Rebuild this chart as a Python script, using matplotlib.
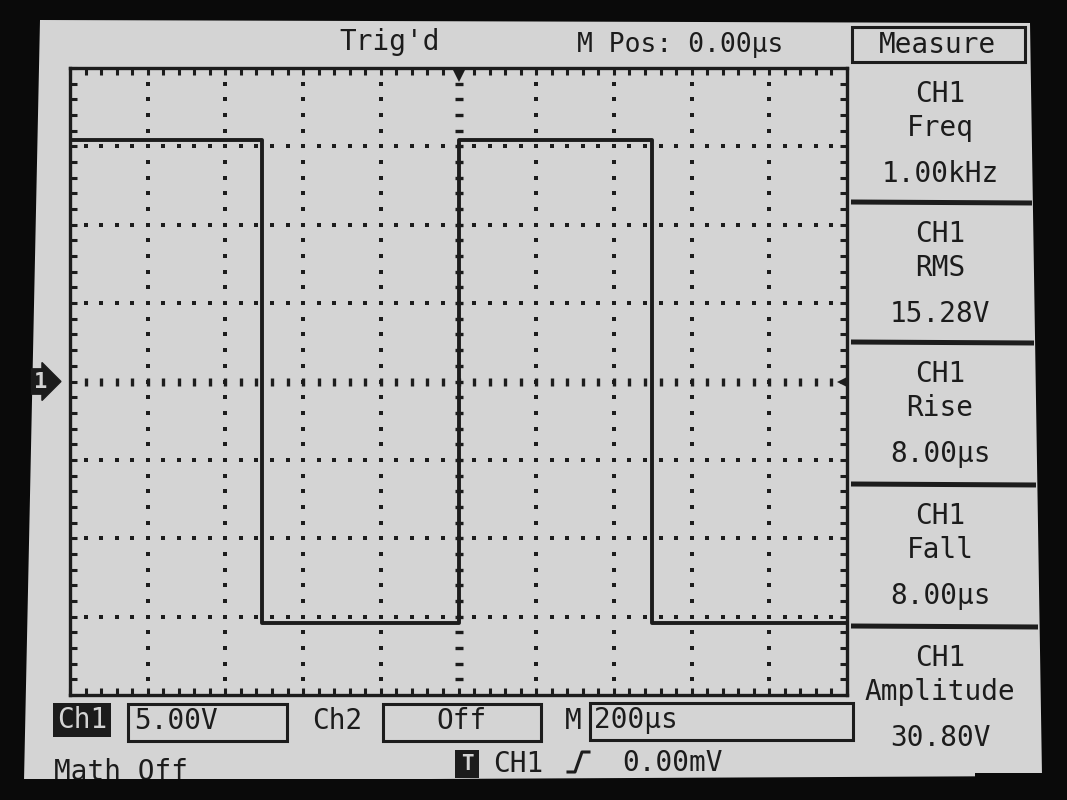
import numpy as np
import matplotlib
matplotlib.use('Agg')
import matplotlib.pyplot as plt
from matplotlib.patches import Polygon, Rectangle

# waveform (time in us, level in V)
edge_times_us = [-1000, -506, 0, 498, 1000]
levels_v = [15.4, -15.4, 15.4, -15.4, -15.4]

# scope settings
time_per_div_us = 200
volts_per_div = 5.0
n_xdiv = 10
n_ydiv = 8

# measurement panel
meas_names = ['Freq', 'RMS', 'Rise', 'Fall', 'Amplitude']
meas_values = ['1.00kHz', '15.28V', '8.00µs', '8.00µs', '30.80V']

top_texts = ["Trig'd", 'M Pos: 0.00µs']
ch1_scale = '5.00V'
ch2_state = 'Off'
time_base = '200µs'
trig_level = '0.00mV'

INK = '#1c1c1c'
SCREEN = '#d4d4d4'
FONT = 'DejaVu Sans Mono'
FS = 20

fig = plt.figure(figsize=(10.67, 8), dpi=100)
fig.patch.set_facecolor('#0a0a0a')

# background layer in pixel coordinates
bg = fig.add_axes([0, 0, 1, 1])
bg.set_xlim(0, 1067)
bg.set_ylim(800, 0)
bg.axis('off')
bg.add_patch(Polygon([(40, 20), (1030, 23), (1042, 776), (24, 781)],
                     closed=True, facecolor=SCREEN, edgecolor='none', zorder=0))

# top line
bg.text(390, 42, top_texts[0], fontsize=FS, family=FONT, color=INK, ha='center', va='center')
bg.text(680, 45, top_texts[1], fontsize=FS - 1, family=FONT, color=INK, ha='center', va='center')

# measure panel
bg.add_patch(Rectangle((852, 27), 173, 35, fill=False, lw=2.2, edgecolor=INK))
bg.text(938, 45, 'Measure', fontsize=FS, family=FONT, color=INK, ha='center', va='center')
sec_top = [62, 202, 342, 484, 626]
for i, (name, val) in enumerate(zip(meas_names, meas_values)):
    y0 = sec_top[i]
    if i > 0:
        bg.plot([851, 1030 + i * 2], [y0, y0 + 1], color=INK, lw=3.6, solid_capstyle='butt')
    bg.text(940, y0 + 32, 'CH1', fontsize=FS, family=FONT, color=INK, ha='center', va='center')
    bg.text(940, y0 + 66, name, fontsize=FS, family=FONT, color=INK, ha='center', va='center')
    bg.text(940, y0 + 112, val, fontsize=FS, family=FONT, color=INK, ha='center', va='center')

# bottom status line
bg.add_patch(Rectangle((53, 703), 58, 34, facecolor=INK, edgecolor='none'))
bg.text(82, 720, 'Ch1', fontsize=FS, family=FONT, color=SCREEN, ha='center', va='center')
bg.add_patch(Rectangle((128, 704), 159, 37, fill=False, lw=2.2, edgecolor=INK))
bg.text(134, 721, ch1_scale, fontsize=FS, family=FONT, color=INK, ha='left', va='center')
bg.text(337, 721, 'Ch2', fontsize=FS, family=FONT, color=INK, ha='center', va='center')
bg.add_patch(Rectangle((383, 704), 158, 37, fill=False, lw=2.2, edgecolor=INK))
bg.text(461, 721, ch2_state, fontsize=FS, family=FONT, color=INK, ha='center', va='center')
bg.text(573, 721, 'M', fontsize=FS, family=FONT, color=INK, ha='center', va='center')
bg.add_patch(Rectangle((590, 703), 263, 37, fill=False, lw=2.2, edgecolor=INK))
bg.text(594, 720, time_base, fontsize=FS, family=FONT, color=INK, ha='left', va='center')

bg.text(54, 772, 'Math Off', fontsize=FS, family=FONT, color=INK, ha='left', va='center')
bg.add_patch(Rectangle((455, 750), 24, 28, facecolor=INK, edgecolor='none'))
bg.text(467, 764, 'T', fontsize=15, family=FONT, color=SCREEN, ha='center', va='center',
        fontweight='bold')
bg.text(518, 764, 'CH1', fontsize=FS, family=FONT, color=INK, ha='center', va='center')
bg.plot([568, 575, 582, 589], [772, 772, 752, 752], color=INK, lw=2.2)
bg.text(673, 763, trig_level, fontsize=FS, family=FONT, color=INK, ha='center', va='center')

# cut the bottom edge like the bezel does
bg.add_patch(Rectangle((0, 779), 1067, 30, facecolor='#0a0a0a', edgecolor='none', zorder=5))
bg.add_patch(Rectangle((975, 773), 100, 30, facecolor='#0a0a0a', edgecolor='none', zorder=5))

# graticule
ax = fig.add_axes([70 / 1067, (800 - 695) / 800, 777 / 1067, 627 / 800])
ax.set_facecolor('none')
xhalf = n_xdiv / 2 * time_per_div_us
yhalf = n_ydiv / 2 * volts_per_div
ax.set_xlim(-xhalf, xhalf)
ax.set_ylim(-yhalf, yhalf)
for s in ax.spines.values():
    s.set_linewidth(2.4)
    s.set_color(INK)
ax.set_xticks(np.arange(-xhalf, xhalf + 1, time_per_div_us))
ax.set_xticks(np.arange(-xhalf, xhalf + 1, time_per_div_us / 5), minor=True)
ax.set_yticks(np.arange(-yhalf, yhalf + 0.1, volts_per_div))
ax.set_yticks(np.arange(-yhalf, yhalf + 0.1, volts_per_div / 5), minor=True)
ax.tick_params(which='both', direction='in', top=True, right=True, length=5,
               width=2.2, color=INK, labelbottom=False, labelleft=False)

xmaj = np.arange(-xhalf + time_per_div_us, xhalf, time_per_div_us)
xmin = np.arange(-xhalf + time_per_div_us / 5, xhalf, time_per_div_us / 5)
ymaj = np.arange(-yhalf + volts_per_div, yhalf, volts_per_div)
ymin = np.arange(-yhalf + volts_per_div / 5, yhalf, volts_per_div / 5)

# dotted grid
gx, gy = np.meshgrid(xmaj[xmaj != 0], ymin)
ax.scatter(gx.ravel(), gy.ravel(), s=6, marker='s', color=INK, lw=0)
gx, gy = np.meshgrid(xmin, ymaj[ymaj != 0])
ax.scatter(gx.ravel(), gy.ravel(), s=6, marker='s', color=INK, lw=0)
# center cross with small dashes
ax.plot(np.zeros_like(ymin), ymin, ls='none', marker='_', ms=6, mew=2.4, color=INK)
ax.plot(xmin, np.zeros_like(xmin), ls='none', marker='|', ms=6, mew=2.4, color=INK)

# signal
ax.step(edge_times_us, levels_v, where='post', color=INK, lw=2.8)

# markers: ground level, trigger position
ax.annotate('1', xy=(0, 0), xycoords=('axes fraction', 'data'), xytext=(-21, 0),
            textcoords='offset points', ha='center', va='center', fontsize=16,
            fontweight='bold', family=FONT, color=SCREEN,
            bbox=dict(boxstyle='rarrow,pad=0.12', fc=INK, ec=INK),
            annotation_clip=False)
ax.plot([xhalf - 10], [0], marker='<', ms=9, color=INK, clip_on=False, markeredgewidth=0)
ax.plot([0], [yhalf - 0.5], marker='v', ms=8, color=INK, clip_on=False, markeredgewidth=0)

fig.savefig('out.png', dpi=100, facecolor=fig.get_facecolor())
